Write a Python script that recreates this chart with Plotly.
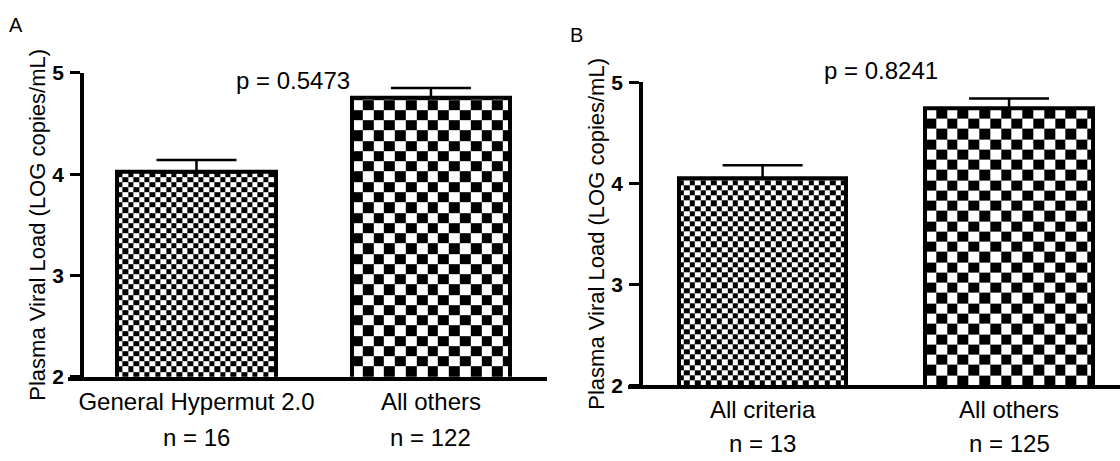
import plotly.graph_objects as go

# ---------------- data ----------------
panel_letters = ["A", "B"]
p_texts = ["p = 0.5473", "p = 0.8241"]

cats_A = ["General Hypermut 2.0", "All others"]
n_A = ["n = 16", "n = 122"]
mean_A = [4.02, 4.75]
sem_A = [0.12, 0.10]

cats_B = ["All criteria", "All others"]
n_B = ["n = 13", "n = 125"]
mean_B = [4.05, 4.74]
sem_B = [0.13, 0.10]

y_ticks = [2, 3, 4, 5]
y_title = "Plasma Viral Load (LOG copies/mL)"

# ---------------- style / layout constants ----------------
W, H = 1120, 461
FONT = "Arial, Liberation Sans, sans-serif"

panels = [
    dict(xdom_px=(68, 547), yaxis_x=82, ydom_px=(384, 64), xr=(-0.548, 1.495), bw=0.675,
         cats=cats_A, ns=n_A, means=mean_A, sems=sem_A, n_y=448,
         letter_xy=(16, 14), p_xy=(293, 72)),
    dict(xdom_px=(628, 1120), yaxis_x=641, ydom_px=(393, 74), xr=(-0.546, 1.450), bw=0.68,
         cats=cats_B, ns=n_B, means=mean_B, sems=sem_B, n_y=454,
         letter_xy=(577, 24), p_xy=(881, 62)),
]
yr = (2, 5)
cell_px = [5.4, 10.8]  # checker cell size for first (fine) and second (coarse) bar


def edges(start, stop, step):
    e = [start]
    while e[-1] + step < stop - 1e-9:
        e.append(e[-1] + step)
    e.append(stop)
    return e


fig = go.Figure()
layout_axes = {}
annotations = []

for i, pnl in enumerate(panels):
    sfx = "" if i == 0 else str(i + 1)
    xa, ya = "x" + sfx, "y" + sfx
    x0p, x1p = pnl["xdom_px"]
    yb, yt = pnl["ydom_px"]
    xr = pnl["xr"]
    ux = (xr[1] - xr[0]) / (x1p - x0p)      # data units per px (x)
    uy = (yr[1] - yr[0]) / (yb - yt)        # data units per px (y)

    # checkerboard fill of each bar
    for j, m in enumerate(pnl["means"]):
        c = j
        ex = edges(c - pnl["bw"] / 2, c + pnl["bw"] / 2, cell_px[j] * ux)
        ey = edges(yr[0], m, cell_px[j] * uy)
        z = [[(r + q) % 2 for q in range(len(ex) - 1)] for r in range(len(ey) - 1)]
        fig.add_trace(go.Heatmap(
            x=ex, y=ey, z=z, xaxis=xa, yaxis=ya,
            colorscale=[[0, "white"], [1, "black"]], zmin=0, zmax=1,
            showscale=False, hoverinfo="skip", zsmooth=False))

    fig.add_trace(go.Bar(
        x=[0, 1], y=pnl["means"], width=pnl["bw"], xaxis=xa, yaxis=ya,
        marker=dict(color="rgba(0,0,0,0)", line=dict(color="black", width=4)),
        error_y=dict(type="data", symmetric=False, array=pnl["sems"],
                     arrayminus=[0, 0], color="black", thickness=2.5, width=40),
        showlegend=False))

    layout_axes["xaxis" + sfx] = dict(
        domain=[x0p / W, x1p / W], range=list(xr), anchor=ya,
        showline=True, linewidth=4, linecolor="black",
        tickvals=[0, 1], ticktext=pnl["cats"], ticks="",
        tickfont=dict(family=FONT, size=24, color="black"),
        showgrid=False, zeroline=False, fixedrange=True)
    layout_axes["yaxis" + sfx] = dict(
        domain=[1 - yb / H, 1 - yt / H], range=list(yr), anchor="free",
        position=pnl["yaxis_x"] / W,
        showline=True, linewidth=3.5, linecolor="black",
        ticks="outside", ticklen=10, tickwidth=3, tickcolor="black",
        tickvals=y_ticks, ticktext=["<b>%d</b>" % t for t in y_ticks],
        tickfont=dict(family=FONT, size=21, color="black"), ticklabelstandoff=2,
        title=dict(text=y_title, font=dict(family=FONT, size=22, color="black"), standoff=0),
        showgrid=False, zeroline=False, fixedrange=True)

    for j, ntext in enumerate(pnl["ns"]):
        annotations.append(dict(
            text=ntext, x=j, xref=xa, y=1 - pnl["n_y"] / H, yref="paper",
            showarrow=False, xanchor="center", yanchor="middle",
            font=dict(family=FONT, size=24, color="black")))

    annotations.append(dict(
        text=panel_letters[i], x=pnl["letter_xy"][0] / W, y=1 - pnl["letter_xy"][1] / H,
        xref="paper", yref="paper", showarrow=False, xanchor="center", yanchor="middle",
        font=dict(family=FONT, size=20, color="black")))
    annotations.append(dict(
        text=p_texts[i], x=pnl["p_xy"][0] / W, y=1 - pnl["p_xy"][1] / H,
        xref="paper", yref="paper", showarrow=False, xanchor="center", yanchor="middle",
        font=dict(family=FONT, size=24, color="black")))

fig.update_layout(
    width=W, height=H, margin=dict(l=0, r=0, t=0, b=0),
    paper_bgcolor="white", plot_bgcolor="white", showlegend=False,
    bargap=0, annotations=annotations, **layout_axes)

fig.write_html(
    "out.html",
    config={"displayModeBar": False},
    post_script="document.body.style.margin='0';document.body.style.overflow='hidden';")
